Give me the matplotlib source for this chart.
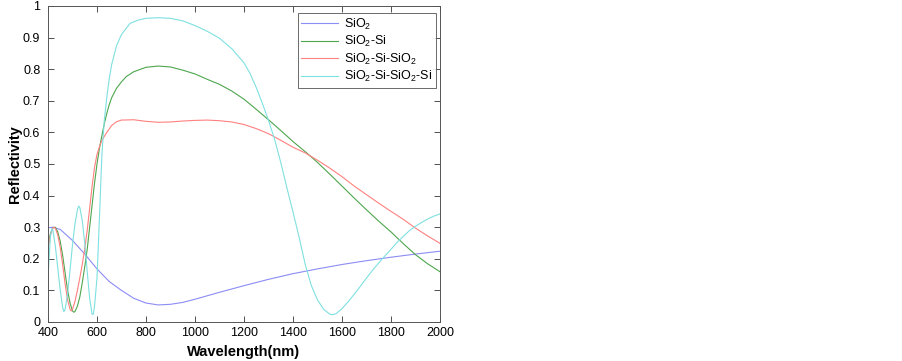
import matplotlib
matplotlib.use("Agg")
import matplotlib.pyplot as plt

plt.rcParams['font.family'] = ['Liberation Sans', 'DejaVu Sans']
plt.rcParams['mathtext.fontset'] = 'custom'
plt.rcParams['mathtext.rm'] = 'Liberation Sans'
plt.rcParams['mathtext.it'] = 'Liberation Sans:italic'
plt.rcParams['mathtext.bf'] = 'Liberation Sans:bold'

# ---- data ----
labels = ['SiO$_2$', 'SiO$_2$-Si', 'SiO$_2$-Si-SiO$_2$', 'SiO$_2$-Si-SiO$_2$-Si']

wl_sio2 = [400, 420, 450, 500, 550, 600, 650, 700, 750, 800, 850, 900, 950, 1000,
           1100, 1200, 1300, 1400, 1500, 1600, 1700, 1800, 1900, 2000]
r_sio2 = [0.298, 0.300, 0.293, 0.258, 0.215, 0.168, 0.128, 0.100, 0.075, 0.060, 0.054,
          0.056, 0.062, 0.072, 0.094, 0.115, 0.135, 0.153, 0.168, 0.182, 0.194, 0.205,
          0.215, 0.224]

wl_sio2_si = [400, 410, 420, 430, 440, 450, 460, 470, 480, 490, 500, 506, 510, 520, 530,
              540, 550, 560, 570, 580, 590, 600, 610, 620, 630, 640, 650, 660, 680, 700,
              720, 750, 800, 850, 900, 950, 1000, 1050, 1100, 1150, 1200, 1250, 1300,
              1350, 1400, 1450, 1500, 1550, 1600, 1650, 1700, 1750, 1800, 1850, 1900,
              1950, 2000]
r_sio2_si = [0.245, 0.280, 0.298, 0.300, 0.285, 0.255, 0.210, 0.155, 0.100, 0.060, 0.035,
             0.031, 0.033, 0.050, 0.080, 0.125, 0.175, 0.230, 0.300, 0.370, 0.440, 0.500,
             0.550, 0.590, 0.628, 0.660, 0.688, 0.710, 0.740, 0.760, 0.777, 0.792, 0.806,
             0.810, 0.807, 0.797, 0.785, 0.768, 0.752, 0.731, 0.705, 0.673, 0.640, 0.606,
             0.571, 0.539, 0.505, 0.468, 0.430, 0.392, 0.355, 0.319, 0.285, 0.248, 0.213,
             0.184, 0.159]

wl_3 = [400, 410, 420, 425, 430, 440, 450, 460, 470, 480, 490, 495, 500, 510, 520, 530,
        540, 550, 560, 570, 580, 590, 600, 610, 620, 640, 660, 680, 700, 750, 800, 850,
        900, 950, 1000, 1050, 1100, 1150, 1200, 1250, 1300, 1350, 1400, 1450, 1500,
        1550, 1600, 1650, 1700, 1750, 1800, 1850, 1900, 1950, 2000]
r_3 = [0.230, 0.275, 0.298, 0.300, 0.297, 0.275, 0.235, 0.180, 0.120, 0.070, 0.040,
       0.035, 0.040, 0.065, 0.100, 0.140, 0.183, 0.232, 0.290, 0.360, 0.430, 0.490,
       0.530, 0.555, 0.575, 0.600, 0.622, 0.634, 0.639, 0.640, 0.635, 0.632, 0.633,
       0.636, 0.638, 0.639, 0.637, 0.633, 0.625, 0.612, 0.596, 0.575, 0.553, 0.535,
       0.512, 0.487, 0.460, 0.430, 0.403, 0.376, 0.350, 0.325, 0.297, 0.272, 0.249]

wl_4 = [400, 405, 410, 415, 420, 430, 440, 450, 460, 465, 470, 480, 490, 500, 510, 520,
        525, 530, 540, 550, 560, 570, 580, 585, 590, 600, 610, 620, 630, 640, 650, 660,
        680, 700, 735, 770, 800, 850, 900, 950, 1000, 1050, 1100, 1150, 1200, 1225,
        1250, 1275, 1300, 1325, 1350, 1375, 1400, 1425, 1450, 1475, 1500, 1525, 1550,
        1560, 1575, 1600, 1625, 1650, 1675, 1700, 1725, 1750, 1775, 1800, 1825, 1850,
        1875, 1900, 1925, 1950, 1975, 2000]
r_4 = [0.140, 0.210, 0.270, 0.295, 0.290, 0.240, 0.170, 0.100, 0.045, 0.033, 0.040,
       0.090, 0.165, 0.245, 0.310, 0.355, 0.367, 0.362, 0.320, 0.250, 0.160, 0.075,
       0.024, 0.025, 0.050, 0.140, 0.330, 0.530, 0.640, 0.710, 0.770, 0.815, 0.875,
       0.910, 0.945, 0.956, 0.961, 0.963, 0.961, 0.953, 0.938, 0.920, 0.898, 0.865,
       0.820, 0.786, 0.742, 0.692, 0.638, 0.578, 0.505, 0.425, 0.348, 0.268, 0.182,
       0.115, 0.070, 0.040, 0.025, 0.023, 0.026, 0.042, 0.064, 0.088, 0.113, 0.139,
       0.164, 0.187, 0.209, 0.230, 0.252, 0.271, 0.289, 0.303, 0.315, 0.326, 0.335,
       0.342]

x_ticks = [400, 600, 800, 1000, 1200, 1400, 1600, 1800, 2000]
y_ticks = [0, 0.1, 0.2, 0.3, 0.4, 0.5, 0.6, 0.7, 0.8, 0.9, 1]
y_ticklabels = ['0', '0.1', '0.2', '0.3', '0.4', '0.5', '0.6', '0.7', '0.8', '0.9', '1']

colors = ['#8c8cf5', '#4ea64e', '#ff8080', '#7fe0e0']

# ---- figure ----
fig = plt.figure(figsize=(9.03, 3.61), dpi=100)
ax = fig.add_axes([48 / 903, 1 - 322 / 361, 392 / 903, 316 / 361])

series = [(wl_sio2, r_sio2), (wl_sio2_si, r_sio2_si), (wl_3, r_3), (wl_4, r_4)]
for (x, y), c, lab in zip(series, colors, labels):
    ax.plot(x, y, color=c, lw=0.8, label=lab)

ax.set_xlim(400, 2000)
ax.set_ylim(0, 1)
ax.set_xticks(x_ticks)
ax.set_yticks(y_ticks)
ax.set_yticklabels(y_ticklabels)
ax.tick_params(direction='in', top=True, right=True, length=4, width=0.6,
               labelsize=9, colors='#333333', labelcolor='black')
ax.tick_params(axis='y', pad=5.5)
ax.tick_params(axis='x', pad=3.5)
for s in ax.spines.values():
    s.set_linewidth(0.7)
    s.set_color('#555555')

ax.set_xlabel('Wavelength(nm)', fontsize=10.5, fontweight='bold', labelpad=4.5)
ax.set_ylabel('Reflectivity', fontsize=10.5, fontweight='bold', labelpad=0.5)

leg = ax.legend(loc='upper right', bbox_to_anchor=(0.9898, 0.9788), borderaxespad=0,
                fontsize=9, frameon=True, fancybox=False, handlelength=2.9,
                handletextpad=0.5, labelspacing=0.2, borderpad=0.3)
leg.get_frame().set_edgecolor('#444444')
leg.get_frame().set_linewidth(0.7)

fig.savefig('out.png', dpi=100)
